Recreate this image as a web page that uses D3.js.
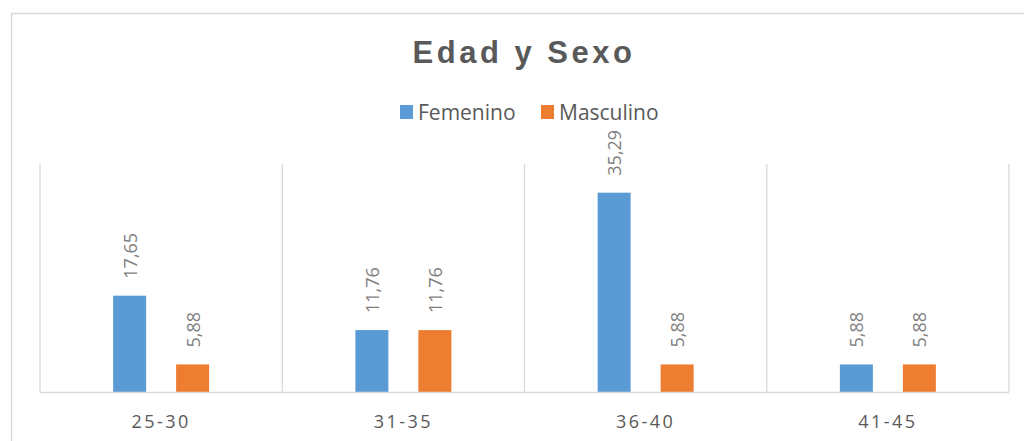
<!DOCTYPE html>
<html>
<head>
<meta charset="utf-8">
<script src="https://cdn.jsdelivr.net/npm/d3@7"></script>
<style>
  body { margin: 0; background: #fff; }
  text { font-family: "Open Sans", "Liberation Sans", sans-serif; }
</style>
</head>
<body>
<svg id="chart" width="1024" height="441"></svg>
<script>
// data
const categories = ["25-30", "31-35", "36-40", "41-45"];
const series = ["Femenino", "Masculino"];
const femenino = [17.65, 11.76, 35.29, 5.88];
const masculino = [5.88, 11.76, 5.88, 5.88];
const colors = ["#5b9bd5", "#ed7d31"];

let svg = d3.select("svg#chart");

// outer chart border
svg.append("rect")
  .attr("x", 11.5).attr("y", 13.5)
  .attr("width", 1030).attr("height", 440)
  .attr("fill", "none")
  .attr("stroke", "#d9d9d9")
  .attr("stroke-width", 1.5);

let x = d3.scaleBand().domain(categories).range([40, 1009]);
let xs = d3.scaleBand().domain(series).range([-48, 48]).paddingInner(0.476);
// axis does not start at zero in the original
let y = d3.scaleLinear().domain([1.16, 40.2]).range([392, 164]);

// vertical category separators
let seps = categories.map(c => x(c)).concat([x.range()[1]]);
svg.append("g").selectAll("line")
  .data(seps)
  .join("line")
  .attr("x1", d => d).attr("x2", d => d)
  .attr("y1", y.range()[1]).attr("y2", y.range()[0])
  .attr("stroke", "#d9d9d9")
  .attr("stroke-width", 1.3);

// title
svg.append("text")
  .attr("x", 524).attr("y", 63)
  .attr("text-anchor", "middle")
  .style("font-family", "'Liberation Sans', Arial, sans-serif")
  .style("font-weight", "bold")
  .style("font-size", "31px")
  .style("letter-spacing", "3.5px")
  .attr("fill", "#595959")
  .text("Edad y Sexo");

// legend
let legendX = [400, 541];
let legend = svg.append("g").selectAll("g")
  .data(series)
  .join("g")
  .attr("transform", (d, i) => "translate(" + legendX[i] + ",105)");
legend.append("rect")
  .attr("width", 13).attr("height", 14)
  .attr("fill", (d, i) => colors[i]);
legend.append("text")
  .attr("x", 18).attr("y", 14.5)
  .style("font-size", "21px")
  .attr("fill", "#595959")
  .text(d => d);

// bars
let rows = [];
categories.forEach((c, i) => {
  rows.push({ cat: c, s: series[0], v: femenino[i], col: colors[0] });
  rows.push({ cat: c, s: series[1], v: masculino[i], col: colors[1] });
});

let cx = d => x(d.cat) + x.bandwidth() / 2 + xs(d.s);

svg.append("g").selectAll("rect")
  .data(rows)
  .join("rect")
  .attr("x", d => cx(d))
  .attr("y", d => y(d.v))
  .attr("width", xs.bandwidth())
  .attr("height", d => y.range()[0] - y(d.v))
  .attr("fill", d => d.col);

// data labels, rotated
svg.append("g").selectAll("text")
  .data(rows)
  .join("text")
  .attr("transform", d => "translate(" + (cx(d) + xs.bandwidth() / 2) + "," + (y(d.v) - 17) + ") rotate(-90)")
  .attr("dominant-baseline", "central")
  .style("font-size", "18px")
  .attr("fill", "#7f7f7f")
  .text(d => d3.format(".2f")(d.v).replace(".", ","));

// baseline
svg.append("line")
  .attr("x1", 40).attr("x2", 1009)
  .attr("y1", 392.5).attr("y2", 392.5)
  .attr("stroke", "#d9d9d9")
  .attr("stroke-width", 1.5);

// category labels
svg.append("g").selectAll("text")
  .data(categories)
  .join("text")
  .attr("x", d => x(d) + x.bandwidth() / 2)
  .attr("y", 428)
  .attr("text-anchor", "middle")
  .style("font-size", "18px")
  .style("letter-spacing", "2.5px")
  .attr("fill", "#595959")
  .text(d => d);
</script>
</body>
</html>
